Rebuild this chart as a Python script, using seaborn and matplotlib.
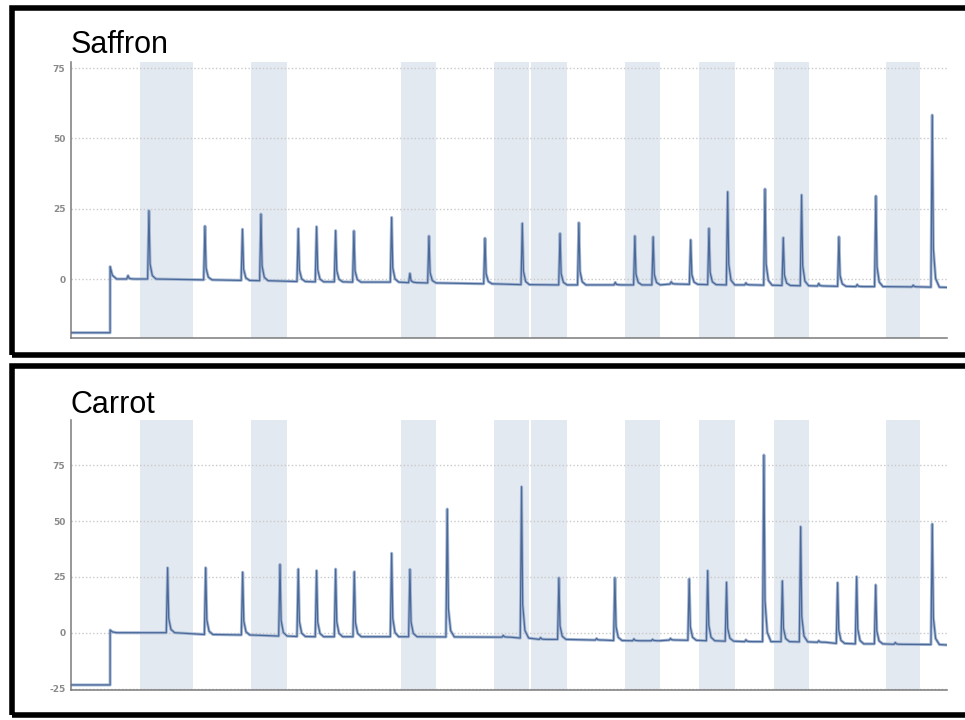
import matplotlib
matplotlib.use("Agg")
import matplotlib.pyplot as plt
from matplotlib.patches import Rectangle
import seaborn as sns
import pandas as pd

sns.set_style("white")
plt.rcParams["font.family"] = ["Liberation Sans", "DejaVu Sans"]

# ---- data (x in tick units, y in signal units) ----
x_ticks = list(range(0, 46))
y_ticks_saffron = [0, 25, 50, 75]
y_ticks_carrot = [-25, 0, 25, 50, 75]
bands = [(2.65, 5.5), (8.6, 10.5), (16.6, 18.5), (21.6, 23.5), (23.6, 25.5),
         (28.6, 30.5), (32.6, 34.5), (36.6, 38.5), (42.6, 44.45)]

# Saffron
saffron_start = -19.1
saffron_step_time = 1.04
saffron_step_top = 4.4
saffron_times = [2.0, 3.12, 6.12, 8.13, 9.12, 11.12, 12.1, 13.12, 14.1, 16.12, 17.1,
                 18.12, 21.12, 23.12, 25.14, 26.15, 28.1, 29.15, 30.13, 31.1, 32.14,
                 33.12, 34.12, 35.1, 36.12, 37.1, 38.08, 39.0, 40.08, 41.06, 42.06,
                 44.06, 45.08]
saffron_heights = [1.2, 24.3, 18.8, 17.7, 23.1, 17.9, 18.6, 17.2, 17.1, 21.9, 2.0,
                   15.3, 14.5, 19.8, 16.2, 20.0, -1.2, 15.3, 15.0, -1.0, 13.9,
                   18.0, 31.0, -1.4, 32.0, 14.7, 29.9, -1.6, 15.0, -2.0, 29.5,
                   -2.2, 58.3]
saffron_feet = [0.0, 0.0, -0.3, -0.5, -0.6, -0.9, -1.0, -1.0, -1.1, -1.1, -1.3,
                -1.4, -1.7, -2.0, -2.1, -2.1, -2.1, -2.1, -2.1, -1.8, -1.9,
                -2.0, -2.1, -2.1, -2.2, -2.3, -2.4, -2.5, -2.6, -2.7, -2.7,
                -2.8, -2.9]
saffron_end = -3.0

# Carrot
carrot_start = -23.4
carrot_step_time = 1.04
carrot_step_top = 1.2
carrot_times = [4.12, 6.16, 8.14, 10.14, 11.12, 12.1, 13.12, 14.12, 16.12, 17.1,
                19.1, 22.1, 23.08, 24.1, 25.08, 27.1, 28.08, 29.1, 30.1, 31.06,
                32.06, 33.05, 34.06, 35.1, 36.06, 37.05, 38.03, 39.0, 40.01, 41.03,
                42.05, 43.1, 45.08]
carrot_heights = [29.1, 29.1, 27.1, 30.6, 28.5, 27.8, 28.5, 27.3, 35.6, 28.4,
                  55.4, -1.2, 65.4, -2.2, 24.6, -2.6, 24.6, -2.8, -3.0, -2.6,
                  24.1, 27.8, 22.6, -3.2, 79.6, 23.2, 47.5, -3.6, 22.4, 25.1,
                  21.4, -4.4, 48.7]
carrot_feet = [0.0, -0.8, -1.0, -1.5, -1.7, -1.8, -1.8, -1.8, -1.8, -1.8,
               -1.9, -2.0, -2.4, -3.0, -3.0, -3.3, -3.5, -3.6, -3.6, -3.3,
               -3.4, -3.6, -3.8, -4.0, -4.0, -4.0, -4.1, -4.3, -4.8, -5.0,
               -5.0, -5.2, -5.3]
carrot_end = -5.5

# peak outline (offset in x, fraction of height above the foot)
peak_dx = [-0.07, 0.0, 0.06, 0.18, 0.38]
peak_frac = [0.0, 1.0, 0.22, 0.05, 0.0]

X_LEFT, X_RIGHT = -1.055, 45.87


def trace(start, step_t, step_top, times, heights, feet, end):
    xs = [X_LEFT, step_t, step_t + 0.001, step_t + 0.12, step_t + 0.35]
    ys = [start, start, step_top, feet[0] + 0.3 * (step_top - feet[0]), feet[0]]
    for t, h, b in zip(times, heights, feet):
        for dx, fr in zip(peak_dx, peak_frac):
            xs.append(t + dx)
            ys.append(b + fr * (h - b))
    xs.append(X_RIGHT)
    ys.append(end)
    return pd.DataFrame({"time": xs, "signal": ys})


panels = [
    ("Saffron", trace(saffron_start, saffron_step_time, saffron_step_top,
                      saffron_times, saffron_heights, saffron_feet, saffron_end),
     y_ticks_saffron, (-20.98, 77.17), [71 / 965, 382 / 720, 876 / 965, 276 / 720],
     (71 / 965, 1 - 53 / 720)),
    ("Carrot", trace(carrot_start, carrot_step_time, carrot_step_top,
                     carrot_times, carrot_heights, carrot_feet, carrot_end),
     y_ticks_carrot, (-25.67, 95.3), [71 / 965, 30 / 720, 876 / 965, 270 / 720],
     (71 / 965, 1 - 413 / 720)),
]

fig = plt.figure(figsize=(9.65, 7.2), dpi=100)

# black frames around each panel (right side runs off the picture)
fig.patches.append(Rectangle((12 / 965, 1 - 355 / 720), 1.2, 347 / 720, transform=fig.transFigure,
                             fill=False, ec="black", lw=4.0, zorder=10))
fig.patches.append(Rectangle((12 / 965, 1 - 715 / 720), 1.2, 349 / 720, transform=fig.transFigure,
                             fill=False, ec="black", lw=4.0, zorder=10))

for name, df, yt, ylim, rect, tpos in panels:
    ax = fig.add_axes(rect)
    for a, b in bands:
        ax.axvspan(a, b, color="#e3e9f1", lw=0, zorder=0)
    for v in yt:
        ax.axhline(v, color="#c9c9c9", lw=1.0, ls=(0, (1, 1.6)), zorder=1)
    sns.lineplot(data=df, x="time", y="signal", ax=ax, sort=False, estimator=None,
                 color="#a7b9d4", lw=2.2, zorder=2)
    sns.lineplot(data=df, x="time", y="signal", ax=ax, sort=False, estimator=None,
                 color="#4a6898", lw=0.9, zorder=3)
    ax.set_xlim(X_LEFT, X_RIGHT)
    ax.set_ylim(*ylim)
    ax.set_xticks(x_ticks)
    ax.set_xticklabels([])
    ax.set_yticks(yt)
    ax.set_yticklabels([str(v) for v in yt], color="#8a8a8a", fontsize=6.5,
                       fontweight="bold", family=["DejaVu Sans"])
    ax.tick_params(axis="x", direction="inout", length=5, width=0.8, color="#777777")
    ax.tick_params(axis="y", direction="out", length=3, width=0.8, color="#999999", pad=1)
    ax.set_xlabel("")
    ax.set_ylabel("")
    for s in ["top", "right"]:
        ax.spines[s].set_visible(False)
    for s in ["left", "bottom"]:
        ax.spines[s].set_color("#7a7a7a")
        ax.spines[s].set_linewidth(1.1)
    fig.text(tpos[0], tpos[1], name, fontsize=22, color="black", ha="left", va="baseline")

fig.savefig("out.png", dpi=100, facecolor="white")
